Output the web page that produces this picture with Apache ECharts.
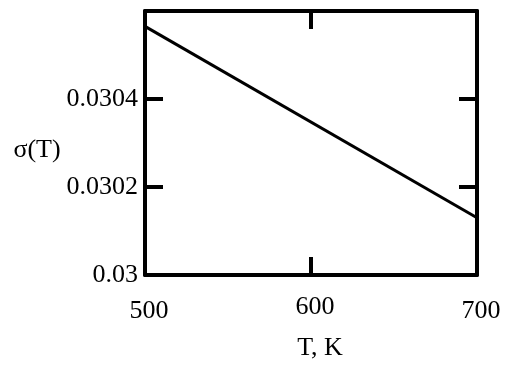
<!DOCTYPE html>
<html>
<head>
<meta charset="utf-8">
<script src="https://cdn.jsdelivr.net/npm/echarts@6/dist/echarts.min.js"></script>
<style>html,body{margin:0;padding:0;background:#fff}#c{width:514px;height:371px}</style>
</head>
<body>
<div id="c"></div>
<script>
var tempK = [500, 700];
var sigma = [0.030565, 0.03013];
var xTicks = ['500', '600', '700'];
var yTicks = ['0.03', '0.0302', '0.0304'];

var FONT = 'Liberation Serif';
var FS = 26;
var chart = echarts.init(document.getElementById('c'));
var frameLine = {show: true, lineStyle: {color: '#000', width: 4}};
var tick = {show: true, inside: true, length: 18, lineStyle: {color: '#000', width: 4}};
function yLabel(v) {
  var i = Math.round((v - 0.03) / 0.0002);
  return yTicks[i] !== undefined ? yTicks[i] : '';
}
function xLabel(v) {
  var i = Math.round((v - 500) / 100);
  var s = xTicks[i] !== undefined ? xTicks[i] : '';
  return i === 1 ? '{hi|' + s + '}' : '{lo|' + s + '}';
}
chart.setOption({
  animation: false,
  backgroundColor: '#fff',
  grid: {left: 145, right: 37, top: 11, bottom: 96},
  xAxis: [{
    type: 'value', min: 500, max: 700, interval: 100, position: 'bottom',
    axisLine: frameLine, axisTick: tick, splitLine: {show: false},
    axisLabel: {color: '#000', fontFamily: FONT, fontSize: FS, margin: 19, padding: [0, 0, 0, 8], formatter: xLabel,
      rich: {
        hi: {fontFamily: FONT, fontSize: FS, color: '#000'},
        lo: {fontFamily: FONT, fontSize: FS, color: '#000', padding: [4, 0, 0, 0]}
      }},
    name: 'T, K', nameLocation: 'middle', nameGap: 60,
    nameTextStyle: {color: '#000', fontFamily: FONT, fontSize: FS, padding: [0, 0, 0, 18]}
  }, {
    type: 'value', min: 500, max: 700, interval: 100, position: 'top',
    axisLine: frameLine, axisTick: tick, axisLabel: {show: false}, splitLine: {show: false}
  }],
  yAxis: [{
    type: 'value', min: 0.03, max: 0.0306, interval: 0.0002, position: 'left',
    axisLine: frameLine, axisTick: tick, splitLine: {show: false},
    axisLabel: {color: '#000', fontFamily: FONT, fontSize: FS, margin: 7, showMaxLabel: false, formatter: yLabel},
    name: 'σ(T)', nameLocation: 'middle', nameRotate: 0, nameGap: 83,
    nameTextStyle: {color: '#000', fontFamily: FONT, fontSize: FS, verticalAlign: 'top', lineHeight: 14}
  }, {
    type: 'value', min: 0.03, max: 0.0306, interval: 0.0002, position: 'right',
    axisLine: frameLine, axisTick: tick, axisLabel: {show: false}, splitLine: {show: false}
  }],
  series: [{
    type: 'line', xAxisIndex: 0, yAxisIndex: 0,
    data: tempK.map(function (t, i) { return [t, sigma[i]]; }),
    showSymbol: false, symbol: 'none',
    lineStyle: {color: '#000', width: 3}
  }]
});
</script>
</body>
</html>
